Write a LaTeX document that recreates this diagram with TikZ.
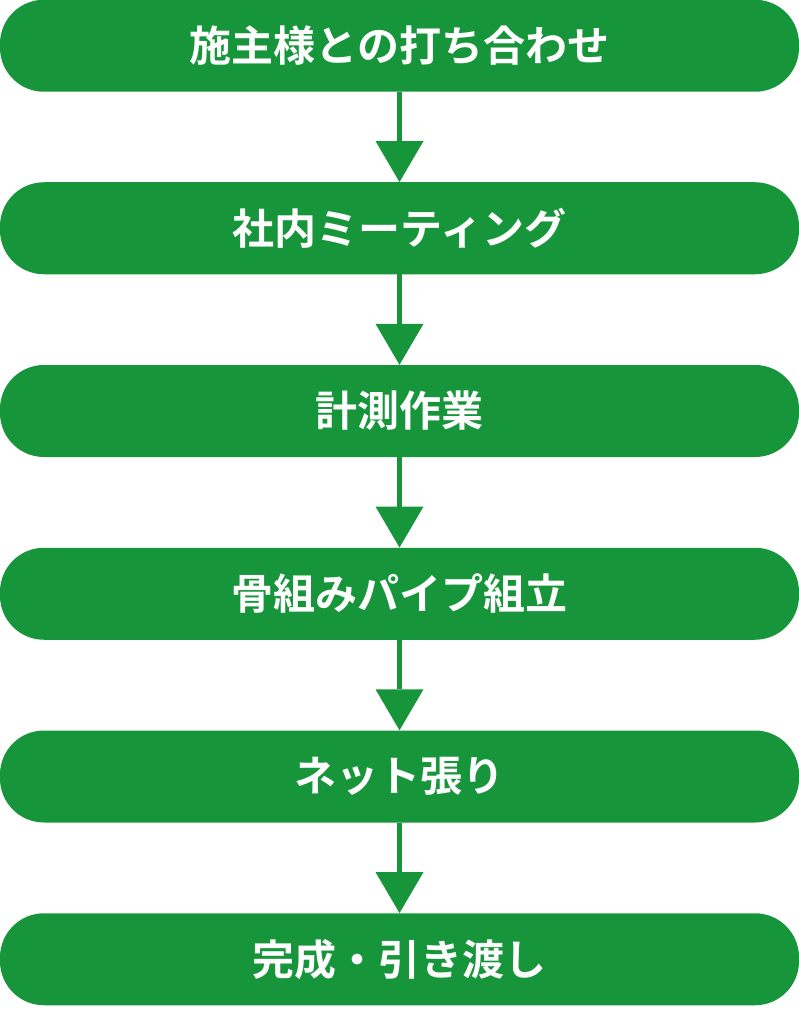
\documentclass[tikz,border=0pt]{standalone}
\usepackage{fontspec}
\newfontfamily\cjk{Noto Sans CJK JP}[BoldFont={Noto Sans CJK JP Bold}]
\usetikzlibrary{arrows.meta}
\definecolor{flowgreen}{RGB}{22,149,58}
\tikzset{
  stepbox/.style={draw=none, fill=flowgreen, rounded corners=44pt,
    minimum width=799pt, minimum height=92pt, inner sep=0pt,
    text=white, font=\cjk\bfseries\fontsize{42pt}{48pt}\selectfont},
  flowarrow/.style={draw=flowgreen, line width=4.5pt,
    -{Triangle[width=48pt,length=41pt,line width=0pt,fill=flowgreen]}}
}
\begin{document}
\begin{tikzpicture}[x=1pt,y=-1pt]
\useasboundingbox (0,0) rectangle (799,1011);
\node[stepbox] (b1) at (399.5,45.75) {施主様との打ち合わせ};
\node[stepbox] (b2) at (399.5,228.25) {社内ミーティング};
\node[stepbox] (b3) at (399.5,411) {計測作業};
\node[stepbox] (b4) at (399.5,593.75) {骨組みパイプ組立};
\node[stepbox] (b5) at (399.5,776.5) {ネット張り};
\node[stepbox] (b6) at (399.5,959.25) {完成・引き渡し};
\draw[flowarrow] (b1.south) -- (b2.north);
\draw[flowarrow] (b2.south) -- (b3.north);
\draw[flowarrow] (b3.south) -- (b4.north);
\draw[flowarrow] (b4.south) -- (b5.north);
\draw[flowarrow] (b5.south) -- (b6.north);
\end{tikzpicture}
\end{document}
